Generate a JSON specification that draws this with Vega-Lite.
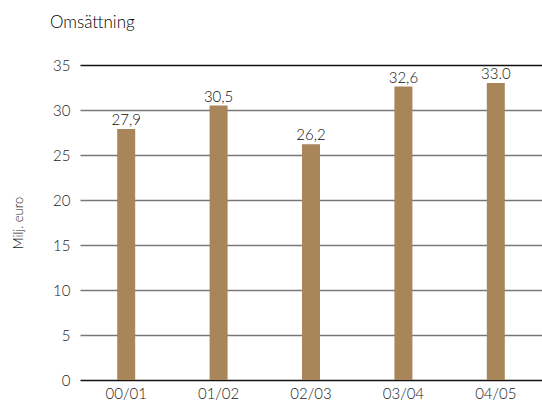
{
  "$schema": "https://vega.github.io/schema/vega-lite/v6.json",
  "autosize": "none",
  "width": 462,
  "height": 315,
  "padding": {"left": 80, "top": 65, "right": 0, "bottom": 26},
  "background": "white",
  "title": {
    "text": "Omsättning",
    "anchor": "start",
    "frame": "group",
    "dx": -30,
    "offset": 26,
    "fontSize": 17,
    "font": "Lato",
    "fontWeight": 300,
    "color": "#000000"
  },
  "config": {
    "view": {"stroke": null},
    "font": "Lato"
  },
  "data": {
    "values": [
      {"period": "00/01", "value": 27.9, "label": "27,9"},
      {"period": "01/02", "value": 30.5, "label": "30,5"},
      {"period": "02/03", "value": 26.2, "label": "26,2"},
      {"period": "03/04", "value": 32.6, "label": "32,6"},
      {"period": "04/05", "value": 33.0, "label": "33.0"}
    ]
  },
  "encoding": {
    "x": {
      "field": "period",
      "type": "nominal",
      "sort": null,
      "scale": {"paddingInner": 0.8, "paddingOuter": 0.4},
      "axis": {
        "title": null,
        "labelAngle": 0,
        "labelFontSize": 15,
        "labelFontWeight": 300,
        "labelColor": "#1a1a1a",
        "labelPadding": 6,
        "ticks": false,
        "domain": false,
        "grid": false
      }
    },
    "y": {
      "field": "value",
      "type": "quantitative",
      "scale": {"domain": [0, 35]},
      "axis": {
        "title": "Milj. euro",
        "titleFontSize": 13,
        "titleFontWeight": 300,
        "titleColor": "#1a1a1a",
        "titlePadding": 27,
        "values": [0, 5, 10, 15, 20, 25, 30, 35],
        "labelFontSize": 15,
        "labelFontWeight": 300,
        "labelColor": "#1a1a1a",
        "labelPadding": 10,
        "ticks": false,
        "domain": false,
        "grid": true,
        "gridColor": {"condition": {"test": "datum.value == 0 || datum.value == 35", "value": "#111111"}, "value": "#777777"},
        "gridWidth": 1.5
      }
    }
  },
  "layer": [
    {
      "mark": {"type": "bar", "size": 18, "color": "#A8865A"}
    },
    {
      "mark": {"type": "text", "baseline": "bottom", "dy": -1, "fontSize": 15, "fontWeight": 300, "color": "#111111"},
      "encoding": {"text": {"field": "label"}}
    }
  ]
}
